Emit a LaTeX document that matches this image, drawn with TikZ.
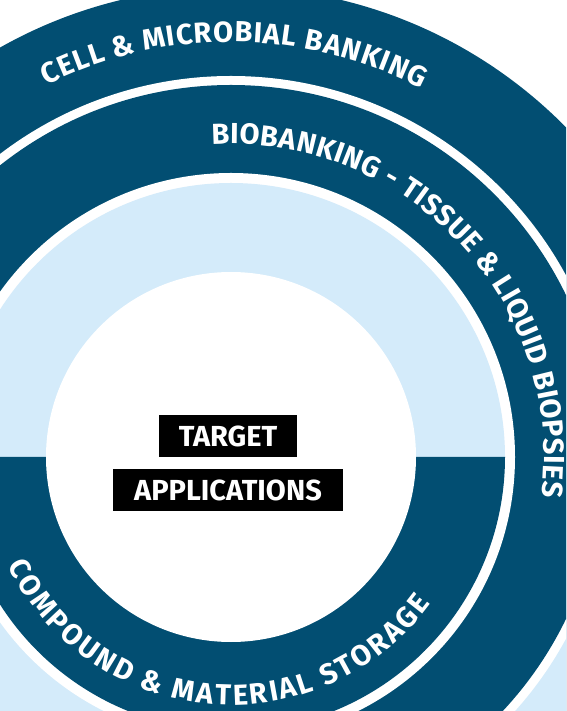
\documentclass[tikz,border=0pt]{standalone}
\usepackage{fontspec}
\setmainfont{Fira Sans}
\usetikzlibrary{decorations.text,positioning}
\definecolor{darkblue}{HTML}{024E72}
\definecolor{lightblue}{HTML}{D4EBFA}
\tikzset{
  tbox/.style={fill=black,text=white,font=\fontsize{29}{34}\selectfont\bfseries,inner sep=0pt,minimum height=42pt},
  ringtext/.style={decorate,decoration={text along path,text align={fit to path},text color=white,
    text={|\fontsize{29}{34}\selectfont\bfseries|#1}}}
}
\begin{document}
\begin{tikzpicture}
\useasboundingbox (-231pt,-254pt) rectangle (335pt,457pt);
\clip (-231pt,-254pt) rectangle (335pt,457pt);
\fill[darkblue] (0,0) circle (470pt);
\fill[lightblue] (0,0) -- (180:470pt) arc[start angle=180,end angle=360,radius=470pt] -- cycle;
\fill[white] (0,0) circle (381pt);
\fill[darkblue] (0,0) circle (372pt);
\fill[lightblue] (0,0) -- (180:372pt) arc[start angle=180,end angle=270,radius=372pt] -- cycle;
\fill[white] (0,0) circle (284pt);
\fill[lightblue] (0,0) -- (0:274pt) arc[start angle=0,end angle=180,radius=274pt] -- cycle;
\fill[darkblue] (0,0) -- (180:274pt) arc[start angle=180,end angle=360,radius=274pt] -- cycle;
\fill[white] (0,0) circle (185pt);
\path[ringtext={CELL {\&} MICROBIAL BANKING}] (116.4:415pt) arc[start angle=116.4,end angle=62.7,radius=415pt];
\path[ringtext={BIOBANKING - TISSUE {\&} LIQUID BIOPSIES}] (93.5:313pt) arc[start angle=93.5,end angle=-7.3,radius=313pt];
\path[ringtext={COMPOUND {\&} MATERIAL STORAGE}] (206:248pt) arc[start angle=206,end angle=323.8,radius=248pt];
\node[tbox,minimum width=138pt] (target) at (-3pt,21pt) {TARGET};
\node[tbox,minimum width=230pt,below=12pt of target] (apps) {APPLICATIONS};
\end{tikzpicture}
\end{document}
